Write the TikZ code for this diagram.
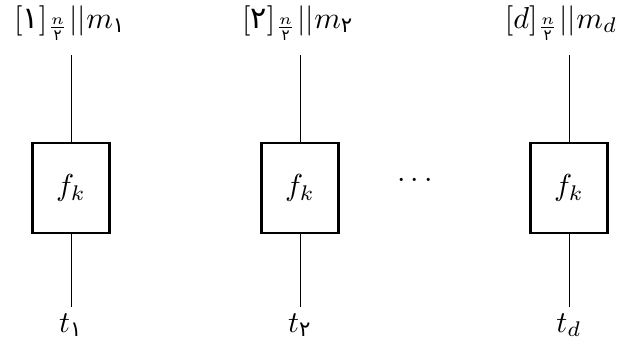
\documentclass[tikz,border=0pt]{standalone}
\usepackage{amsmath}
\usepackage{fontspec}
\newfontfamily\pdigfont[Scale=1.0]{DejaVu Sans}
\newcommand{\pd}[1]{\text{\pdigfont #1}}
\begin{document}
\begin{tikzpicture}[x=0.33pt,y=-0.33pt,
  fbox/.style={draw,line width=0.7pt,minimum width=77*0.33pt,minimum height=90*0.33pt,inner sep=0pt},
  wire/.style={line width=0.33pt},
  lbl/.style={inner sep=0pt}]
\useasboundingbox (0,0) rectangle (619,345);
\foreach \i/\x in {1/71,2/300,3/569}{
  \node[fbox] (b\i) at (\x,188) {$f_k$};
  \coordinate (u\i) at (\x,55);
  \coordinate (d\i) at (\x,307);
  \draw[wire] (u\i) -- (b\i.north);
  \draw[wire] (b\i.south) -- (d\i);
}
\node[lbl] (l1) at (70,23) {$[\pd{۱}]_{\frac{n}{\pd{۲}}}||m_{\pd{۱}}$};
\node[lbl] (l2) at (298,23) {$[\pd{۲}]_{\frac{n}{\pd{۲}}}||m_{\pd{۲}}$};
\node[lbl] (l3) at (561,23) {$[d]_{\frac{n}{\pd{۲}}}||m_{d}$};
\node[lbl] (t1) at (71,325) {$t_{\pd{۱}}$};
\node[lbl] (t2) at (300,325) {$t_{\pd{۲}}$};
\node[lbl] (t3) at (569,325) {$t_{d}$};
\node[lbl] (dots) at (415,181) {${\cdot}\,{\cdot}\,{\cdot}$};
\end{tikzpicture}
\end{document}
